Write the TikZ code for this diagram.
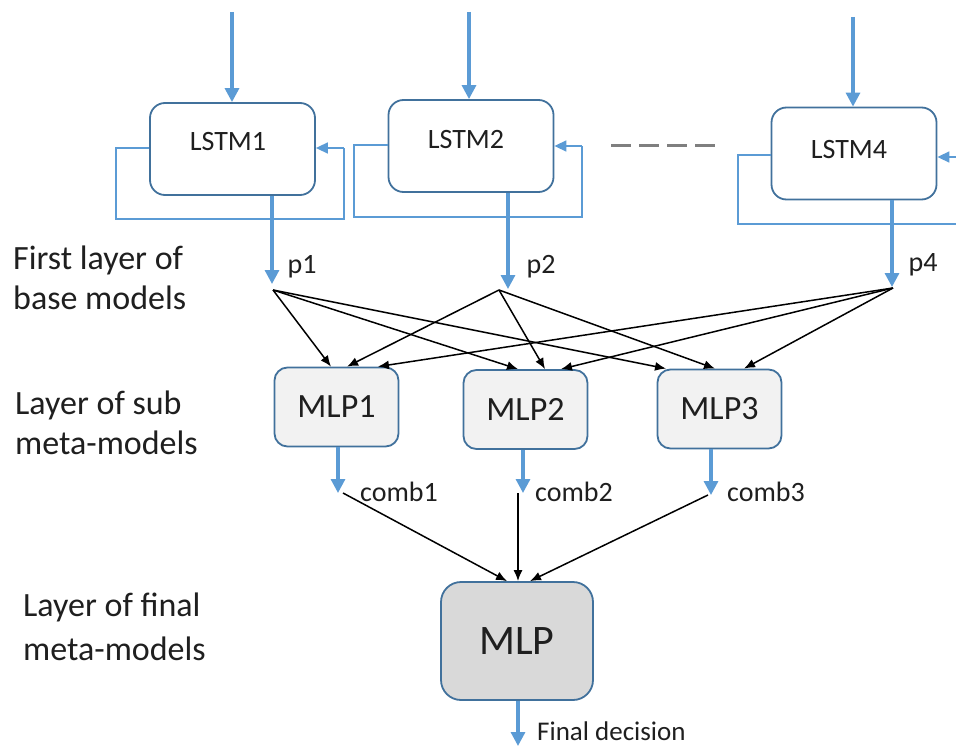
\documentclass[tikz,border=0pt]{standalone}
\usepackage{fontspec}
\setmainfont{Carlito}
\usetikzlibrary{arrows.meta,calc}
\definecolor{flowblue}{HTML}{5B9BD5}
\definecolor{edgeblue}{HTML}{41719C}
\definecolor{subfill}{HTML}{F2F2F2}
\definecolor{finfill}{HTML}{D9D9D9}
\definecolor{txt}{HTML}{1F1F1F}
\definecolor{dashgray}{HTML}{7F7F7F}
\begin{document}
\begin{tikzpicture}[x=1pt,y=-1pt,
  lstmbox/.style={draw=edgeblue,line width=1.8pt,fill=white,rounded corners=15pt,
    minimum width=165pt,minimum height=92pt,inner sep=0pt},
  subbox/.style={draw=edgeblue,line width=1.8pt,fill=subfill,rounded corners=13pt,
    minimum width=124pt,minimum height=79pt,inner sep=0pt,text=txt,
    font=\fontsize{34}{40}\selectfont},
  finalbox/.style={draw=edgeblue,line width=1.8pt,fill=finfill,rounded corners=20pt,
    minimum width=152pt,minimum height=118pt,inner sep=0pt,text=txt,
    font=\fontsize{42}{48}\selectfont},
  boxtext/.style={text=txt,inner sep=0pt,font=\fontsize{28}{34}\selectfont},
  lbl/.style={text=txt,inner sep=0pt,font=\fontsize{28}{34}\selectfont},
  layer/.style={text=txt,inner sep=0pt,anchor=west,align=left,
    font=\fontsize{34}{40}\selectfont},
  flow/.style={draw=flowblue,line width=3.2pt,-{Triangle[length=14pt,width=14pt]}},
  loopline/.style={draw=flowblue,line width=1.6pt},
  looparrow/.style={draw=flowblue,line width=1.6pt,-{Triangle[length=12pt,width=11pt]}},
  fan/.style={draw=black,line width=1.5pt,-{Latex[length=11pt,width=9pt]}},
  dots/.style={draw=dashgray,line width=3pt,dash pattern=on 20pt off 8pt}
]
\useasboundingbox (0,0) rectangle (956,749);

% ---- base LSTM models ----
\node[lstmbox] (l1) at (232.5,149) {};
\node[lstmbox] (l2) at (471,146) {};
\node[lstmbox] (l4) at (854,153.5) {};
\node[boxtext] (l1t) at (228,142) {LSTM1};
\node[boxtext] (l2t) at (466,140) {LSTM2};
\node[boxtext] (l4t) at (849,150) {LSTM4};

% inputs
\coordinate (in1) at (232,12);
\coordinate (in2) at (469,12);
\coordinate (in4) at (853,17);
\draw[flow] (in1) -- (in1 |- l1.north);
\draw[flow] (in2) -- (in2 |- l2.north);
\draw[flow] (in4) -- (in4 |- l4.north);

% recurrent loops
\draw[loopline] (l1.west |- 0,148) -- (116,148) -- (116,219) -- (344,219) -- (344,148);
\draw[looparrow] (344,148) -- (l1.east |- 0,148);
\draw[loopline] (l2.west |- 0,145) -- (354,145) -- (354,217) -- (582,217) -- (582,146);
\draw[looparrow] (582,146) -- (l2.east |- 0,146);
\draw[loopline] (l4.west |- 0,155) -- (738,155) -- (738,224) -- (956,224);
\coordinate (r4) at (956,157);
\draw[looparrow] (r4) -- (l4.east |- r4);

% elided models
\coordinate (d1) at (611,146);
\coordinate (d2) at (718,146);
\draw[dots] (d1) -- (d2);

% predictions
\coordinate (p1) at (272,284);
\coordinate (p2) at (508,289);
\coordinate (p4) at (892,287);
\draw[flow] (p1 |- l1.south) -- (p1);
\draw[flow] (p2 |- l2.south) -- (p2);
\draw[flow] (p4 |- l4.south) -- (p4);
\node[lbl] (p1t) at (302,267) {p1};
\node[lbl] (p2t) at (541,267) {p2};
\node[lbl] (p4t) at (923,265) {p4};

% ---- sub meta-models ----
\node[subbox] (m1) at (336.5,407) {MLP1};
\node[subbox] (m2) at (525.5,409.5) {MLP2};
\node[subbox] (m3) at (719.5,409) {MLP3};

\coordinate (s1) at (273,290);
\coordinate (s2) at (499,290);
\coordinate (s4) at (893,288);

\coordinate (m1a) at (331,0 |- m1.north);
\coordinate (m1b) at (347,0 |- m1.north);
\coordinate (m1c) at (378,0 |- m1.north);
\coordinate (m2a) at (518,0 |- m2.north);
\coordinate (m2b) at (545,0 |- m2.north);
\coordinate (m2c) at (561,0 |- m2.north);
\coordinate (m3a) at (666,0 |- m3.north);
\coordinate (m3b) at (715,0 |- m3.north);
\coordinate (m3c) at (744,0 |- m3.north);

\draw[fan] (s1) -- (m1a);
\draw[fan] (s1) -- (m2a);
\draw[fan] (s1) -- (m3a);
\draw[fan] (s2) -- (m1b);
\draw[fan] (s2) -- (m2b);
\draw[fan] (s2) -- (m3b);
\draw[fan] (s4) -- (m1c);
\draw[fan] (s4) -- (m2c);
\draw[fan] (s4) -- (m3c);

% combined outputs
\coordinate (c1) at (338,493);
\coordinate (c2) at (523,493);
\coordinate (c3) at (711,495);
\draw[flow] (c1 |- m1.south) -- (c1);
\draw[flow] (c2 |- m2.south) -- (c2);
\draw[flow] (c3 |- m3.south) -- (c3);
\node[lbl,anchor=west] (c1t) at (360,492) {comb1};
\node[lbl,anchor=west] (c2t) at (535,492) {comb2};
\node[lbl,anchor=west] (c3t) at (727,492) {comb3};

% ---- final meta-model ----
\node[finalbox] (f) at (517,641) {MLP};
\coordinate (fa) at (507,0 |- f.north);
\coordinate (fb) at (518,0 |- f.north);
\coordinate (fc) at (530,0 |- f.north);
\coordinate (k1) at (343,493);
\coordinate (k2) at (518,493);
\coordinate (k3) at (708,495);
\draw[fan] (k1) -- (fa);
\draw[fan] (k2) -- (fb);
\draw[fan] (k3) -- (fc);

\coordinate (out) at (518,746);
\draw[flow] (out |- f.south) -- (out);
\node[lbl,anchor=west,font=\fontsize{27}{32}\selectfont] (outt) at (537,731) {Final decision};

% ---- layer captions ----
\node[layer] (t1) at (13,278) {First layer of\\base models};
\node[layer] (t2) at (15,423) {Layer of sub\\meta-models};
\node[layer,font=\fontsize{34}{44}\selectfont] (t3) at (23,627) {Layer of final\\meta-models};
\end{tikzpicture}
\end{document}
